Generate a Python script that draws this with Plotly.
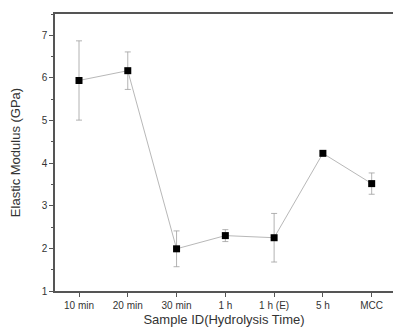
import plotly.graph_objects as go

categories = ["10 min", "20 min", "30 min", "1 h", "1 h (E)", "5 h", "MCC"]
modulus = [5.94, 6.17, 1.99, 2.30, 2.25, 4.23, 3.52]
errors = [0.93, 0.44, 0.42, 0.14, 0.57, 0.05, 0.25]

x_idx = list(range(len(categories)))

fig = go.Figure()
fig.add_trace(go.Scatter(
    x=x_idx, y=modulus,
    mode="lines+markers",
    line=dict(color="#b8b8b8", width=1),
    marker=dict(symbol="square", size=7, color="black"),
    error_y=dict(type="data", array=errors, visible=True,
                 color="#a0a0a0", thickness=0.8, width=3),
    showlegend=False,
    hoverinfo="skip",
))

fig.update_layout(
    width=393, height=333,
    margin=dict(l=55, r=0, t=14, b=42),
    paper_bgcolor="white", plot_bgcolor="white",
    font=dict(family="Liberation Sans, Arial, sans-serif", color="#333333", size=10),
)
fig.update_xaxes(
    range=[-0.492, 6.437],
    tickmode="array", tickvals=x_idx, ticktext=categories,
    ticks="outside", ticklen=4, tickcolor="#555555",
    showline=True, linecolor="#555555", linewidth=1.5, mirror=True,
    showgrid=False, zeroline=False,
    title=dict(text="Sample ID(Hydrolysis Time)", font=dict(size=13), standoff=5),
    tickfont=dict(size=10),
)
fig.update_yaxes(
    range=[1, 7.5],
    tickmode="linear", tick0=1, dtick=1,
    ticks="outside", ticklen=4, tickcolor="#555555",
    minor=dict(ticks="outside", ticklen=2, dtick=0.5, tickcolor="#555555"),
    showline=True, linecolor="#555555", linewidth=1.5,
    showgrid=False, zeroline=False,
    title=dict(text="Elastic Modulus (GPa)", font=dict(size=13), standoff=18),
    tickfont=dict(size=10),
)

fig.write_html(
    "out.html",
    config={"displayModeBar": False},
    post_script="document.body.style.margin='0';document.body.style.overflow='hidden';",
)
